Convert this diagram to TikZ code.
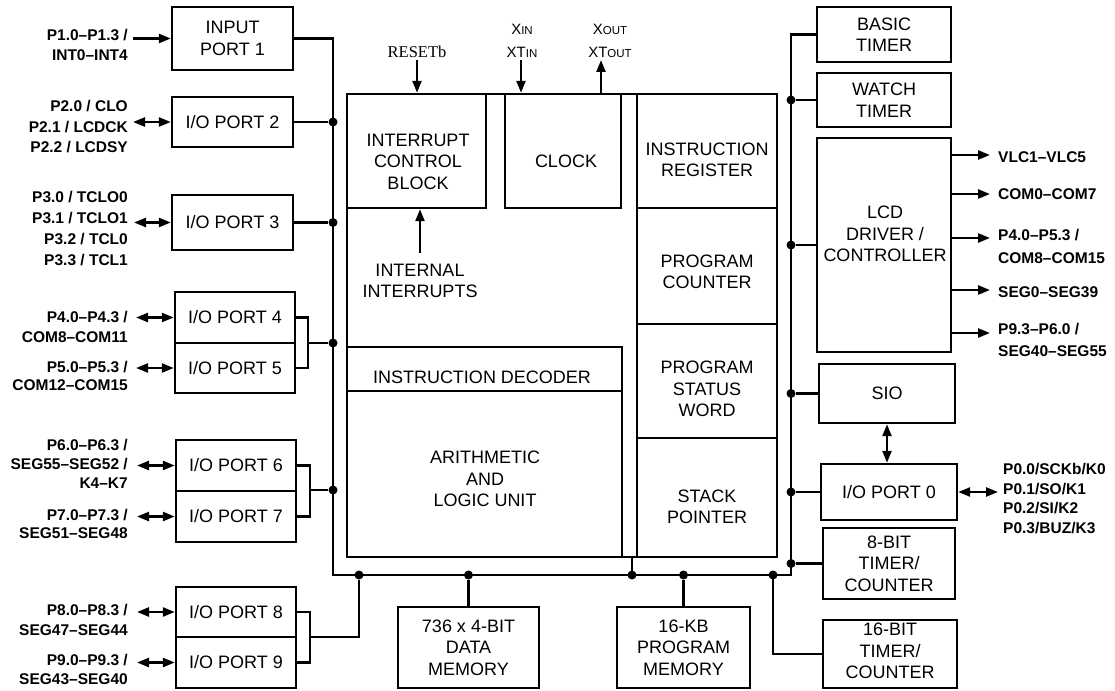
\documentclass[tikz,border=0pt]{standalone}
\usepackage{fontspec}
\setmainfont{Liberation Sans}
\newfontfamily\serifx{Liberation Serif}
\usetikzlibrary{arrows.meta}
\newcommand\xsm[1]{{\fontsize{11.5}{11.5}\selectfont #1}}
\begin{document}
\begin{tikzpicture}[x=1pt,y=-1pt,
  box/.style={draw,line width=2.4pt,rectangle,inner sep=0pt},
  btxt/.style={font=\fontsize{18}{21.5}\selectfont,align=center,inner sep=0pt},
  lbl/.style={font=\bfseries\fontsize{15.5}{20.5}\selectfont,inner sep=0pt},
  xl/.style={font=\fontsize{15}{15}\selectfont,inner sep=0pt},
  wire/.style={line width=2.4pt},
  arr/.style={wire,-{Triangle[length=12pt,width=9pt]}},
  darr/.style={wire,{Triangle[length=12pt,width=9pt]}-{Triangle[length=12pt,width=9pt]}},
  dot/.style={circle,fill,inner sep=0pt,minimum size=9pt}]
\useasboundingbox (0,0) rectangle (1115,690);

% ---------- left ports ----------
\node[box,btxt,minimum width=121pt,minimum height=63pt] (in1) at (232.5,38.5) {INPUT\\PORT 1};
\node[box,btxt,minimum width=121pt,minimum height=50pt] (io2) at (232.5,122) {I/O PORT 2};
\node[box,btxt,minimum width=121pt,minimum height=55pt] (io3) at (232.5,222.5) {I/O PORT 3};
\node[box,btxt,minimum width=120pt,minimum height=51pt] (io4) at (235,317.5) {I/O PORT 4};
\node[box,btxt,minimum width=120pt,minimum height=50pt] (io5) at (235,368) {I/O PORT 5};
\node[box,btxt,minimum width=120pt,minimum height=51pt] (io6) at (236,465.5) {I/O PORT 6};
\node[box,btxt,minimum width=120pt,minimum height=51pt] (io7) at (236,516.5) {I/O PORT 7};
\node[box,btxt,minimum width=120pt,minimum height=50pt] (io8) at (236,612) {I/O PORT 8};
\node[box,btxt,minimum width=120pt,minimum height=51pt] (io9) at (236,662.5) {I/O PORT 9};

% ---------- central block ----------
\node[box,minimum width=430pt,minimum height=463pt] (cpu) at (562,325.5) {};
\node[box,minimum width=139pt,minimum height=114pt] (intc) at (416.5,151) {};
\node[btxt] (intct) at (418,161.5) {INTERRUPT\\CONTROL\\BLOCK};
\node[box,minimum width=116pt,minimum height=114pt] (clk) at (563,151) {};
\node[btxt] (clkt) at (566,161) {CLOCK};
\node[box,minimum width=140pt,minimum height=114pt] (ir) at (707,151) {};
\node[btxt] (irt) at (707,160) {INSTRUCTION\\REGISTER};
\node[box,minimum width=140pt,minimum height=116pt] (pc) at (707,266) {};
\node[btxt] (pct) at (707,272) {PROGRAM\\COUNTER};
\node[box,minimum width=140pt,minimum height=114pt] (psw) at (707,381) {};
\node[btxt] (pswt) at (707,389) {PROGRAM\\STATUS\\WORD};
\node[box,minimum width=140pt,minimum height=119pt] (sp) at (707,497.5) {};
\node[btxt] (spt) at (707,507) {STACK\\POINTER};
\node[box,minimum width=275pt,minimum height=44pt] (idec) at (484.5,369) {};
\node[btxt] (idect) at (482,377) {INSTRUCTION DECODER};
\node[box,minimum width=275pt,minimum height=166pt] (alu) at (484.5,474) {};
\node[btxt] (alut) at (485,479) {ARITHMETIC\\AND\\LOGIC UNIT};
\node[btxt] (iit) at (420,281) {INTERNAL\\INTERRUPTS};
\draw[arr] ([yshift=11pt]iit.north) -- (iit.north |- intc.south);

% ---------- right blocks ----------
\node[box,btxt,minimum width=134pt,minimum height=55pt] (bt) at (884,34.5) {BASIC\\TIMER};
\node[box,btxt,minimum width=134pt,minimum height=54pt] (wt) at (884,100) {WATCH\\TIMER};
\node[box,minimum width=134pt,minimum height=214pt] (lcd) at (884,245) {};
\node[btxt] (lcdt) at (885,234) {LCD\\DRIVER /\\CONTROLLER};
\node[box,btxt,minimum width=136pt,minimum height=59pt] (sio) at (887,393.5) {SIO};
\node[box,btxt,minimum width=136pt,minimum height=56pt] (io0) at (889,492) {I/O PORT 0};
\node[box,btxt,minimum width=132pt,minimum height=71pt] (t8) at (889,563.5) {8-BIT\\TIMER/\\COUNTER};
\node[box,minimum width=134pt,minimum height=68pt] (t16) at (890,654) {};
\node[btxt] (t16t) at (890,651) {16-BIT\\TIMER/\\COUNTER};

% ---------- memories ----------
\node[box,btxt,minimum width=141pt,minimum height=81pt] (dmem) at (468.5,647.5) {736 x 4-BIT\\DATA\\MEMORY};
\node[box,btxt,minimum width=133pt,minimum height=81pt] (pmem) at (683.5,647.5) {16-KB\\PROGRAM\\MEMORY};

% ---------- main bus ----------
\coordinate (lbTop) at (333,38.5);
\coordinate (lbBot) at (333,575);
\coordinate (rbBot) at (791,575);
\coordinate (rbTop) at (791,34.5);
\draw[wire] (in1.east) -- (lbTop) -- (lbBot) -- (rbBot) -- (rbTop) -- (bt.west);

% left branches
\node[dot] (d2) at (333,122) {};
\draw[wire] (io2.east) -- (d2);
\node[dot] (d3) at (333,222.5) {};
\draw[wire] (io3.east) -- (d3);
\coordinate (k45) at (308,343);
\node[dot] (d45) at (333,343) {};
\draw[wire] (io4.east) -| (k45) |- (io5.east);
\draw[wire] (k45) -- (d45);
\coordinate (k67) at (310,490);
\node[dot] (d67) at (333,490) {};
\draw[wire] (io6.east) -| (k67) |- (io7.east);
\draw[wire] (k67) -- (d67);
\coordinate (k89) at (310,637);
\coordinate (c89) at (359,637);
\node[dot] (d89) at (359,575) {};
\draw[wire] (io8.east) -| (k89) |- (io9.east);
\draw[wire] (k89) -- (c89) -- (d89);

% bottom branches
\node[dot] (ddm) at (468.5,575) {};
\draw[wire] (ddm) -- (dmem.north);
\node[dot] (dcpu) at (632,575) {};
\draw[wire] (dcpu.center) -- (dcpu.center |- cpu.south);
\node[dot] (dpm) at (683.5,575) {};
\draw[wire] (dpm) -- (pmem.north);
\node[dot] (d16) at (773,575) {};
\draw[wire] (d16.center) |- (t16.west);

% right branches
\node[dot] (dwt) at (791,100) {};
\draw[wire] (dwt) -- (wt.west);
\node[dot] (dlcd) at (791,245) {};
\draw[wire] (dlcd) -- (lcd.west);
\node[dot] (dsio) at (791,393.5) {};
\draw[wire] (dsio) -- (sio.west);
\node[dot] (dio0) at (791,492) {};
\draw[wire] (dio0) -- (io0.west);
\node[dot] (dt8) at (791,563.5) {};
\draw[wire] (dt8) -- (t8.west);

\draw[darr] (sio.south) -- (sio.south |- io0.north);

% ---------- left labels and arrows ----------
\node[lbl,align=right,anchor=east] (l1) at (128,45) {P1.0–P1.3 /\\INT0–INT4};
\node[lbl,align=right,anchor=east] (l2) at (128,127) {P2.0 / CLO\\P2.1 / LCDCK\\P2.2 / LCDSY};
\node[lbl,align=right,anchor=east] (l3) at (128,229) {P3.0 / TCLO0\\[0.5pt]P3.1 / TCLO1\\[0.5pt]P3.2 / TCL0\\[0.5pt]P3.3 / TCL1};
\node[lbl,align=right,anchor=east] (l4) at (128,327) {P4.0–P4.3 /\\COM8–COM11};
\node[lbl,align=right,anchor=east] (l5) at (128,376) {P5.0–P5.3 /\\[-2pt]COM12–COM15};
\node[lbl,align=right,anchor=east] (l6) at (128,464) {P6.0–P6.3 /\\[-1.5pt]SEG55–SEG52 /\\[-1.5pt]K4–K7};
\node[lbl,align=right,anchor=east] (l7) at (128,524) {P7.0–P7.3 /\\[-2pt]SEG51–SEG48};
\node[lbl,align=right,anchor=east] (l8) at (128,620) {P8.0–P8.3 /\\SEG47–SEG44};
\node[lbl,align=right,anchor=east] (l9) at (128,669) {P9.0–P9.3 /\\[-1.5pt]SEG43–SEG40};

\coordinate (a1) at (133,38.5);
\draw[arr] (a1) -- (in1.west);
\coordinate (a2) at (133,122);
\draw[darr] (a2) -- (io2.west);
\coordinate (a3) at (134,222.5);
\draw[darr] (a3) -- (io3.west);
\coordinate (a4) at (136,317.5);
\draw[darr] (a4) -- (io4.west);
\coordinate (a5) at (136,368);
\draw[darr] (a5) -- (io5.west);
\coordinate (a6) at (137,465.5);
\draw[darr] (a6) -- (io6.west);
\coordinate (a7) at (137,516.5);
\draw[darr] (a7) -- (io7.west);
\coordinate (a8) at (137,612);
\draw[darr] (a8) -- (io8.west);
\coordinate (a9) at (137,662.5);
\draw[darr] (a9) -- (io9.west);

% ---------- right labels and arrows ----------
\coordinate (e1) at (990,155);
\coordinate (e2) at (990,194);
\coordinate (e3) at (990,238);
\coordinate (e4) at (990,290);
\coordinate (e5) at (990,333);
\draw[arr] (lcd.east |- e1) -- (e1);
\draw[arr] (lcd.east |- e2) -- (e2);
\draw[arr] (lcd.east |- e3) -- (e3);
\draw[arr] (lcd.east |- e4) -- (e4);
\draw[arr] (lcd.east |- e5) -- (e5);
\node[lbl,anchor=west] (r1) at (998,157) {VLC1–VLC5};
\node[lbl,anchor=west] (r2) at (998,194) {COM0–COM7};
\node[lbl,anchor=west,align=left] (r3) at (998,246.5) {P4.0–P5.3 /\\[2pt]COM8–COM15};
\node[lbl,anchor=west] (r4) at (998,292) {SEG0–SEG39};
\node[lbl,anchor=west,align=left] (r5) at (998,340) {P9.3–P6.0 /\\[2pt]SEG40–SEG55};
\coordinate (p0e) at (998,492);
\draw[darr] (io0.east) -- (p0e);
\node[lbl,anchor=west,align=left] (r6) at (1003,498.5) {P0.0/SCKb/K0\\[-1pt]P0.1/SO/K1\\[-1pt]P0.2/SI/K2\\[-1pt]P0.3/BUZ/K3};

% ---------- top signals ----------
\node[font=\serifx\fontsize{16.5}{16.5}\selectfont,inner sep=0pt] (rst) at (417,52) {RESETb};
\coordinate (rstA) at (417,60);
\draw[arr] (rstA) -- (rstA |- cpu.north);
\node[xl] (xin) at (522,29) {X\xsm{IN}};
\node[xl] (xtin) at (522,52) {XT\xsm{IN}};
\coordinate (xinA) at (521,60);
\draw[arr] (xinA) -- (xinA |- cpu.north);
\node[xl] (xout) at (610,29) {X\xsm{OUT}};
\node[xl] (xtout) at (610,52) {XT\xsm{OUT}};
\coordinate (xoA) at (601,60);
\draw[arr] (xoA |- cpu.north) -- (xoA);
\end{tikzpicture}
\end{document}
